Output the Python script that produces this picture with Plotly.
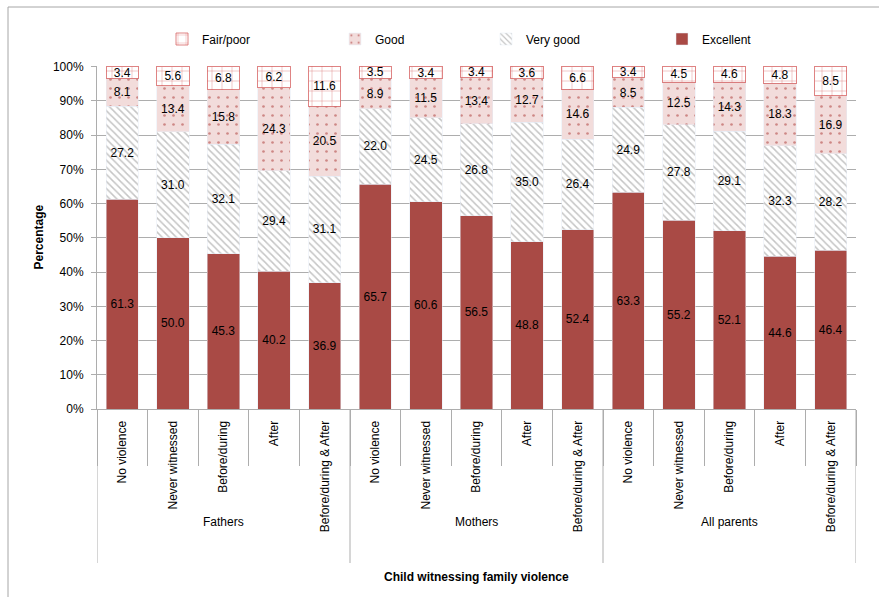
import numpy as np
import plotly.graph_objects as go

# ---- data -------------------------------------------------------------
groups = ["Fathers", "Mothers", "All parents"]
categories = ["No violence", "Never witnessed", "Before/during", "After",
              "Before/during & After"]

excellent = [61.3, 50.0, 45.3, 40.2, 36.9,
             65.7, 60.6, 56.5, 48.8, 52.4,
             63.3, 55.2, 52.1, 44.6, 46.4]
very_good = [27.2, 31.0, 32.1, 29.4, 31.1,
             22.0, 24.5, 26.8, 35.0, 26.4,
             24.9, 27.8, 29.1, 32.3, 28.2]
good = [8.1, 13.4, 15.8, 24.3, 20.5,
        8.9, 11.5, 13.4, 12.7, 14.6,
        8.5, 12.5, 14.3, 18.3, 16.9]
fair_poor = [3.4, 5.6, 6.8, 6.2, 11.6,
             3.5, 3.4, 3.4, 3.6, 6.6,
             3.4, 4.5, 4.6, 4.8, 8.5]

y_ticks = [0, 10, 20, 30, 40, 50, 60, 70, 80, 90, 100]

# ---- geometry helpers -------------------------------------------------
W, H = 879, 597
ML, MR, MT, MB = 97, 23, 66, 188
PW, PH = W - ML - MR, H - MT - MB


def px_x(px):
    return (px - ML) / PW


def px_y(py):
    return (H - MB - py) / PH


n_cat = len(categories)
x_pos = np.arange(len(groups) * n_cat)
x_text = categories * len(groups)

FONT = "Liberation Sans, Arial, sans-serif"
GRID = "#ADADAD"

# (name, values, marker, legend id, legend left edge in px)
series = [
    ("Excellent", excellent, dict(color="#A94A45"), "legend4", 662),
    ("Very good", very_good, dict(color="white",
                                  pattern=dict(shape="\\", fgcolor="#8C8C8C",
                                               bgcolor="white", size=5,
                                               solidity=0.3)),
     "legend3", 486),
    ("Good", good, dict(color="#F2DCDB",
                        pattern=dict(shape=".", fgcolor="#A8322F",
                                     bgcolor="#F2DCDB", size=9,
                                     solidity=0.07)),
     "legend2", 335),
    ("Fair/poor", fair_poor, dict(color="white",
                                  line=dict(color="rgba(210,80,80,0.7)", width=1),
                                  pattern=dict(shape="+", fgcolor="#D04848",
                                               bgcolor="white", size=10,
                                               solidity=0.08, fgopacity=0.75)),
     "legend", 162),
]

fig = go.Figure()
legend_layout = {}
for name, vals, marker, leg, leg_x in series:
    fig.add_trace(go.Bar(
        x=x_pos, y=vals, name=name, width=0.64, marker=marker,
        legend=leg,
        texttemplate="%{y:.1f}", textposition="inside",
        insidetextanchor="middle", textangle=0,
        textfont=dict(family=FONT, size=12, color="black"),
        cliponaxis=False,
    ))
    legend_layout[leg] = dict(
        orientation="h", x=px_x(leg_x), xanchor="left",
        y=px_y(39), yanchor="middle",
        font=dict(family=FONT, size=12, color="black"),
        bgcolor="rgba(0,0,0,0)")

# group dividers and group labels below the category labels
shapes = []
for gi in range(len(groups) + 1):
    xb = gi * n_cat - 0.5
    shapes.append(dict(type="line", xref="x", yref="paper",
                       x0=xb, x1=xb, y0=0, y1=px_y(563),
                       line=dict(color=GRID, width=1)))
# outer frame
shapes.append(dict(type="rect", xref="paper", yref="paper",
                   x0=px_x(8), x1=px_x(W + 10), y0=px_y(H + 10), y1=px_y(7),
                   line=dict(color="#A6A6A6", width=1), layer="below"))

annotations = []
for gi, g in enumerate(groups):
    annotations.append(dict(x=gi * n_cat + (n_cat - 1) / 2, xref="x",
                            y=px_y(522), yref="paper", text=g,
                            showarrow=False, xanchor="center", yanchor="middle",
                            font=dict(family=FONT, size=12, color="black")))
annotations.append(dict(x=0.5, xref="paper", y=px_y(577), yref="paper",
                        text="<b>Child witnessing family violence</b>",
                        showarrow=False, xanchor="center", yanchor="middle",
                        font=dict(family=FONT, size=12, color="black")))
annotations.append(dict(x=px_x(38), xref="paper", y=0.5, yref="paper",
                        text="<b>Percentage</b>", textangle=-90,
                        showarrow=False, xanchor="center", yanchor="middle",
                        font=dict(family=FONT, size=12, color="black")))

fig.update_layout(
    width=W, height=H,
    margin=dict(l=ML, r=MR, t=MT, b=MB),
    paper_bgcolor="white", plot_bgcolor="white",
    barmode="stack",
    font=dict(family=FONT, size=12, color="black"),
    uniformtext=dict(minsize=12, mode="show"),
    showlegend=True,
    shapes=shapes,
    annotations=annotations,
    **legend_layout,
)

fig.update_xaxes(
    type="linear", range=[-0.5, len(x_pos) - 0.5],
    tickmode="array", tickvals=x_pos, ticktext=x_text,
    tickangle=-90, ticks="", ticklabelstandoff=6,
    tickfont=dict(family=FONT, size=12, color="black"),
    showline=True, linecolor=GRID, linewidth=1,
    showgrid=False, zeroline=False,
    minor=dict(tick0=-0.5, dtick=1, ticks="outside", ticklen=56,
               tickcolor=GRID, tickwidth=1, showgrid=False),
)
# the top of the range leaves room for rounding in the stacked totals
fig.update_yaxes(
    range=[0, 100.2], tickmode="array", tickvals=y_ticks,
    ticktext=[f"{v}%" for v in y_ticks],
    ticks="outside", ticklen=5, tickcolor=GRID, ticklabelstandoff=5,
    tickfont=dict(family=FONT, size=12, color="black"),
    showline=True, linecolor=GRID, linewidth=1,
    showgrid=True, gridcolor=GRID, gridwidth=1, zeroline=False,
)

fig.write_html("out.html")
